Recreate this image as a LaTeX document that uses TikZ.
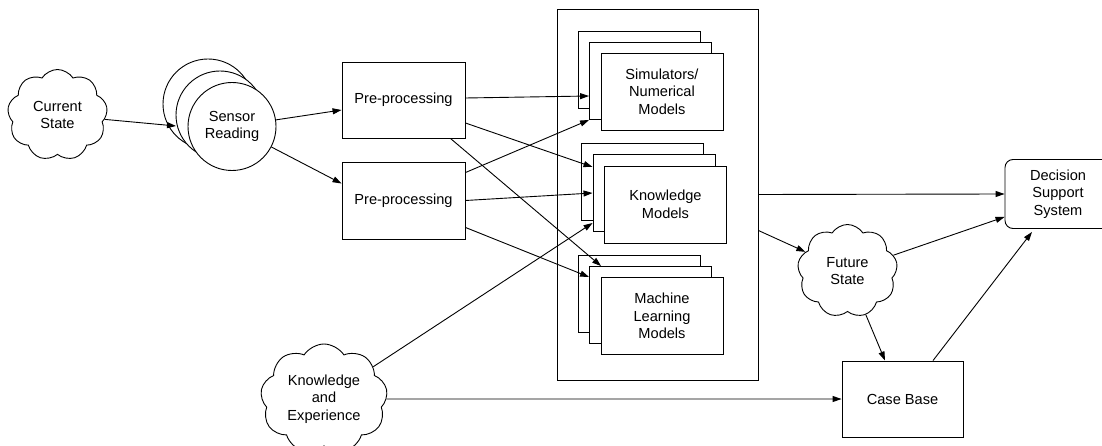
\documentclass[tikz,border=0pt]{standalone}
\usepackage{fontspec}
\setmainfont{Liberation Sans}
\usetikzlibrary{shapes.symbols,arrows.meta,calc}
\begin{document}
\begin{tikzpicture}[x=1pt,y=-1pt, line width=0.9pt,
  every node/.style={font=\fontsize{14.6}{17.5}\selectfont, align=center},
  arr/.style={-{Triangle[length=9pt,width=6pt]}},
  box/.style={draw, fill=white, minimum width=122, minimum height=77, inner sep=0},
  cld/.style={draw, fill=white, cloud, cloud puffs=9, cloud puff arc=115, cloud ignores aspect, inner sep=0},
  circ/.style={draw, fill=white, circle, inner sep=0, minimum size=88}]
\clip (0,0) rectangle (1102,446);

% clouds
\node[cld, minimum width=100, minimum height=91] (cs) at (57.5,115) {Current\\State};
\node[cld, minimum width=100, minimum height=93] (fs) at (847.5,271) {Future\\State};
\node[cld, minimum width=127, minimum height=110] (kexp) at (324,399) {Knowledge\\and\\Experience};

% sensor circles
\node[circ, minimum size=90] (sb) at (208,104) {};
\node[circ] (sm) at (220,115) {};
\node[circ] (sf) at (232,126.5) {Sensor\\Reading};

% pre-processing
\node[box, minimum width=123, minimum height=76] (b1) at (403.5,100) {Pre-processing};
\node[box, minimum width=123, minimum height=77] (b2) at (403.5,200.5) {Pre-processing};

% container
\node[draw, minimum width=201, minimum height=371, inner sep=0] (cont) at (657.5,194.5) {};

% simulators stack
\node[box] (s1) at (639,69.5) {};
\node[box] (s2) at (650.5,80.5) {};
\node[box] (s3) at (662,91.5) {Simulators/\\Numerical\\Models};

% knowledge stack
\node[box] (k1) at (642.5,181.5) {};
\node[box] (k2) at (654,193) {};
\node[box] (k3) at (665.5,204.5) {Knowledge\\Models};

% machine learning stack
\node[box] (m1) at (639,294) {};
\node[box] (m2) at (650.5,305) {};
\node[box] (m3) at (662,316) {Machine\\Learning\\Models};

% case base and DSS
\node[draw, minimum width=121, minimum height=76, inner sep=0] (cb) at (902.5,399) {Case Base};
\node[draw, rounded corners=8pt, minimum width=106, minimum height=69, inner sep=0] (dss) at (1058,194) {Decision\\Support\\System};

% connectors
\draw[arr] (cs) -- ($(sm.center)+(-44,11)$);
\draw[arr] (sf) -- ($(b1.west)+(0,10)$);
\draw[arr] (sf) -- ($(b2.west)+(0,-17)$);
\draw[arr] ($(b1.east)+(0,-2)$) -- ($(s2.west)+(0,15.5)$);
\draw[arr] ($(b2.north east)+(0,11)$) -- ($(s2.south west)+(0,0.5)$);
\draw[arr] ($(b1.east)+(0,23)$) -- ($(k2.west)+(0,-26)$);
\draw[arr] (b2.east) -- (k2.west);
\draw[arr] ($(b1.south east)+(-15,0)$) -- ($(m2.north west)+(12,0)$);
\draw[arr] ($(b2.south east)+(0,-12)$) -- ($(m2.west)+(0,-28)$);
\draw[arr] (kexp) -- ($(k2.west)+(0,30)$);
\draw[arr] (kexp) -- (cb.west);
\draw[arr] (cont.east) -- (dss.west);
\draw[arr] ($(cont.east)+(0,36)$) -- (fs);
\draw[arr] (fs) -- ($(dss.south west)+(0,-12)$);
\draw[arr] (fs) -- ($(cb.north)+(-17.5,0)$);
\draw[arr] ($(cb.north)+(30.5,0)$) -- ($(dss.south)+(-26,3)$);
\end{tikzpicture}
\end{document}
